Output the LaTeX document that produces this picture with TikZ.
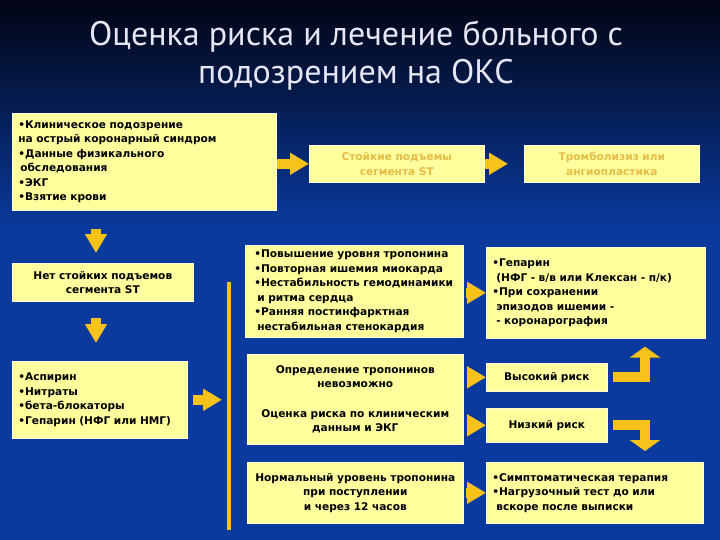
\documentclass[tikz,border=0pt]{standalone}
\usepackage{fontspec}
\setmainfont{DejaVu Sans}
\newfontfamily\zagolovokShrift{PT Sans}
\usepackage{tikz}
\usetikzlibrary{arrows.meta,calc}
\definecolor{temnoSiniy}{HTML}{020514}
\definecolor{sredniySiniy}{HTML}{08246E}
\definecolor{siniyFon}{HTML}{0A3A9E}
\definecolor{svetloZholty}{HTML}{FFFF9E}
\definecolor{kraiZholty}{HTML}{FFFFD8}
\definecolor{strelkaZholty}{HTML}{F7C21A}
\definecolor{zolotoTekst}{HTML}{E4BC46}
\definecolor{zagolovokBely}{HTML}{E6E6F5}

\begin{document}
\begin{tikzpicture}[x=1pt,y=-1pt,
  blok/.style={fill=svetloZholty,draw=kraiZholty,line width=0.6pt,anchor=north west,inner xsep=6pt,inner ysep=0pt,align=center,font=\bfseries\fontsize{10.6}{14.5}\selectfont},
  spisok/.style={blok,align=left},
  strelka/.style={strelkaZholty,line width=10pt,-{Triangle[length=19pt,width=21pt]}},
  strelkaUgol/.style={strelka,-{Triangle[length=11pt,width=30pt]}}]
\useasboundingbox (0,0) rectangle (720,540);
\shade[top color=temnoSiniy,middle color=sredniySiniy,bottom color=siniyFon] (0,0) rectangle (720,230);
\fill[siniyFon] (0,230) rectangle (720,540);
\node[zagolovokBely,font=\zagolovokShrift\fontsize{34}{38}\selectfont,align=center] (zagolovok) at (356,56) {Оценка риска и лечение больного с\\подозрением на ОКС};

\node[spisok,text width=252pt,minimum height=97pt] (klinika) at (12,113) {•Клиническое подозрение\\на острый коронарный синдром\\•Данные физикального\\\hspace*{2pt}обследования\\•ЭКГ\\•Взятие крови};
\node[blok,text width=169pt,minimum height=38pt] (netST) at (12,263) {Нет стойких подъемов\\сегмента ST};
\node[spisok,text width=163pt,minimum height=77pt] (aspirin) at (12,361) {•Аспирин\\•Нитраты\\•бета-блокаторы\\•Гепарин (НФГ или НМГ)};
\node[blok,text=zolotoTekst,text width=163pt,minimum height=37pt] (stoikieST) at (309,145) {Стойкие подъемы\\сегмента ST};
\node[blok,text=zolotoTekst,text width=163pt,minimum height=37pt] (tromboliz) at (524,145) {Тромболизиз или\\ангиопластика};
\node[spisok,text width=206pt,minimum height=92pt] (troponinRost) at (245,245) {\hspace*{3pt}•Повышение уровня тропонина\\\hspace*{3pt}•Повторная ишемия миокарда\\\hspace*{3pt}•Нестабильность гемодинамики\\\hspace*{6pt}и ритма сердца\\\hspace*{3pt}•Ранняя постинфарктная\\\hspace*{6pt}нестабильная стенокардия};
\node[spisok,text width=207pt,minimum height=91pt] (geparin) at (486,247) {•Гепарин\\\hspace*{4pt}(НФГ - в/в или Клексан - п/к)\\•При сохранении\\\hspace*{4pt}эпизодов ишемии -\\\hspace*{4pt}- коронарография};
\node[blok,text width=204pt,minimum height=90pt] (troponinOcenka) at (247,354) {Определение тропонинов\\невозможно\\[15pt]Оценка риска по клиническим\\данным и ЭКГ};
\node[blok,text width=109pt,minimum height=28pt] (vysokiy) at (486,363) {Высокий риск};
\node[blok,text width=109pt,minimum height=34pt] (nizkiy) at (486,408) {Низкий риск};
\node[blok,text width=204pt,minimum height=61pt] (normaTroponin) at (247,462) {Нормальный уровень тропонина\\при поступлении\\и через 12 часов};
\node[spisok,text width=205pt,minimum height=61pt] (simptomy) at (486,462) {•Симптоматическая терапия\\•Нагрузочный тест до или\\\hspace*{4pt}вскоре после выписки};

\coordinate (vnizX) at (96,0);
\coordinate (povorot) at (645,0);
\coordinate (shinaVerh) at (229,282);
\coordinate (shinaNiz) at (229,530);
\draw[strelka,shorten <=18pt,shorten >=10pt] (klinika.south -| vnizX) -- (netST.north -| vnizX);
\draw[strelka,shorten <=16pt,shorten >=18pt] (netST.south -| vnizX) -- (aspirin.north -| vnizX);
\draw[strelkaZholty,line width=4pt] (shinaVerh) -- (shinaNiz);
\draw[strelka,shorten <=5pt,shorten >=7pt] (aspirin.east) -- (aspirin.east -| shinaVerh);
\draw[strelka] (klinika.east |- stoikieST) -- (stoikieST.west);
\draw[strelka,shorten >=16pt] (stoikieST.east) -- (tromboliz.west);
\draw[strelka,shorten <=2pt] (troponinRost.east |- geparin) -- (geparin.west);
\draw[strelka,shorten <=4pt] (troponinOcenka.east |- vysokiy) -- (vysokiy.west);
\draw[strelka,shorten <=4pt] (troponinOcenka.east |- nizkiy) -- (nizkiy.west);
\draw[strelka,shorten <=2pt] (normaTroponin.east) -- (simptomy.west);
\draw[strelkaUgol,shorten <=5pt,shorten >=8pt] (vysokiy.east) -| (geparin.south -| povorot);
\draw[strelkaUgol,shorten <=5pt,shorten >=11pt] (nizkiy.east) -| (simptomy.north -| povorot);
\end{tikzpicture}
\end{document}
